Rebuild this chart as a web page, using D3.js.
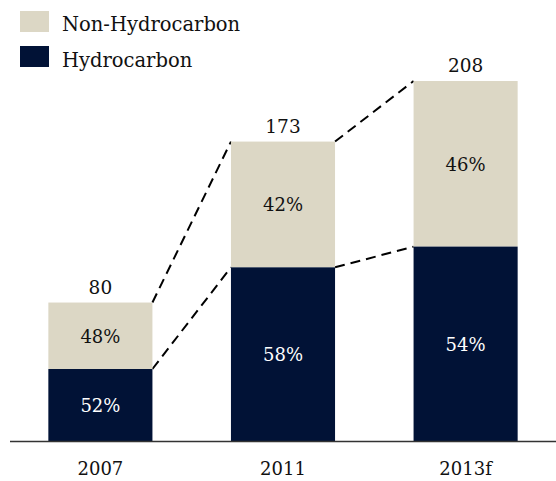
<!DOCTYPE html>
<html>
<head>
<meta charset="utf-8">
<script src="https://cdn.jsdelivr.net/npm/d3@7"></script>
<style>
  body { margin: 0; background: #fff; }
  text { font-family: "DejaVu Serif", serif; }
</style>
</head>
<body>
<svg id="chart"></svg>
<script>
// Data
const years = ["2007", "2011", "2013f"];
const totals = [80, 173, 208];
const hydroShare = [52, 58, 54];
const nonHydroShare = [48, 42, 46];

const width = 556, height = 481;
const colors = { hydro: "#011236", non: "#dcd7c5" };

const svg = d3.select("#chart").attr("width", width).attr("height", height);

// Scales
const x = d3.scaleBand().domain(years).range([10, 556])
  .paddingInner(0.43).paddingOuter(0.21);
const y = d3.scaleLinear().domain([0, 208]).range([441, 81]);

const rows = years.map((yr, i) => ({
  year: yr,
  total: totals[i],
  hydro: totals[i] * hydroShare[i] / 100,
  hp: hydroShare[i],
  np: nonHydroShare[i]
}));

// Dashed connectors between bars
const conn = svg.append("g");
for (let i = 0; i < rows.length - 1; i++) {
  const a = rows[i], b = rows[i + 1];
  ["total", "hydro"].forEach(k => {
    conn.append("line")
      .attr("x1", x(a.year) + x.bandwidth())
      .attr("y1", y(a[k]))
      .attr("x2", x(b.year))
      .attr("y2", y(b[k]))
      .attr("stroke", "#000")
      .attr("stroke-width", 2)
      .attr("stroke-dasharray", "10,6");
  });
}

// Bars
const bars = svg.append("g");
bars.selectAll(".non").data(rows).enter().append("rect")
  .attr("x", d => x(d.year)).attr("width", x.bandwidth())
  .attr("y", d => y(d.total)).attr("height", d => y(d.hydro) - y(d.total))
  .attr("fill", colors.non);
bars.selectAll(".hydro").data(rows).enter().append("rect")
  .attr("x", d => x(d.year)).attr("width", x.bandwidth())
  .attr("y", d => y(d.hydro)).attr("height", d => y(0) - y(d.hydro))
  .attr("fill", colors.hydro);

// Segment labels
const labels = svg.append("g").attr("text-anchor", "middle").style("font-size", "18px");
labels.selectAll(".np").data(rows).enter().append("text")
  .attr("x", d => x(d.year) + x.bandwidth() / 2)
  .attr("y", d => (y(d.total) + y(d.hydro)) / 2 + 7)
  .attr("fill", "#111")
  .text(d => d.np + "%");
labels.selectAll(".hp").data(rows).enter().append("text")
  .attr("x", d => x(d.year) + x.bandwidth() / 2)
  .attr("y", d => (y(d.hydro) + y(0)) / 2 + 7)
  .attr("fill", "#fff")
  .text(d => d.hp + "%");
labels.selectAll(".tot").data(rows).enter().append("text")
  .attr("x", d => x(d.year) + x.bandwidth() / 2)
  .attr("y", d => y(d.total) - 9)
  .attr("fill", "#111")
  .style("font-size", "18.5px")
  .text(d => d.total);

// X axis
const xAxis = svg.append("g").attr("transform", `translate(0,${y(0)})`)
  .call(d3.axisBottom(x).tickSize(0).tickPadding(21));
xAxis.select(".domain").attr("stroke", "#333").attr("stroke-width", 1.5)
  .attr("d", "M10,0.5H556");
xAxis.selectAll("text").style("font-size", "18px").style("font-family", "DejaVu Serif, serif").attr("fill", "#111");

// Legend
const legend = svg.append("g");
const legendItems = [
  { label: "Non-Hydrocarbon", color: colors.non },
  { label: "Hydrocarbon", color: colors.hydro }
];
legendItems.forEach((d, i) => {
  legend.append("rect").attr("x", 20).attr("y", 11 + i * 35)
    .attr("width", 29).attr("height", 21).attr("fill", d.color);
  legend.append("text").attr("x", 62).attr("y", 31 + i * 36)
    .style("font-size", "19.5px").attr("fill", "#111").text(d.label);
});
</script>
</body>
</html>
